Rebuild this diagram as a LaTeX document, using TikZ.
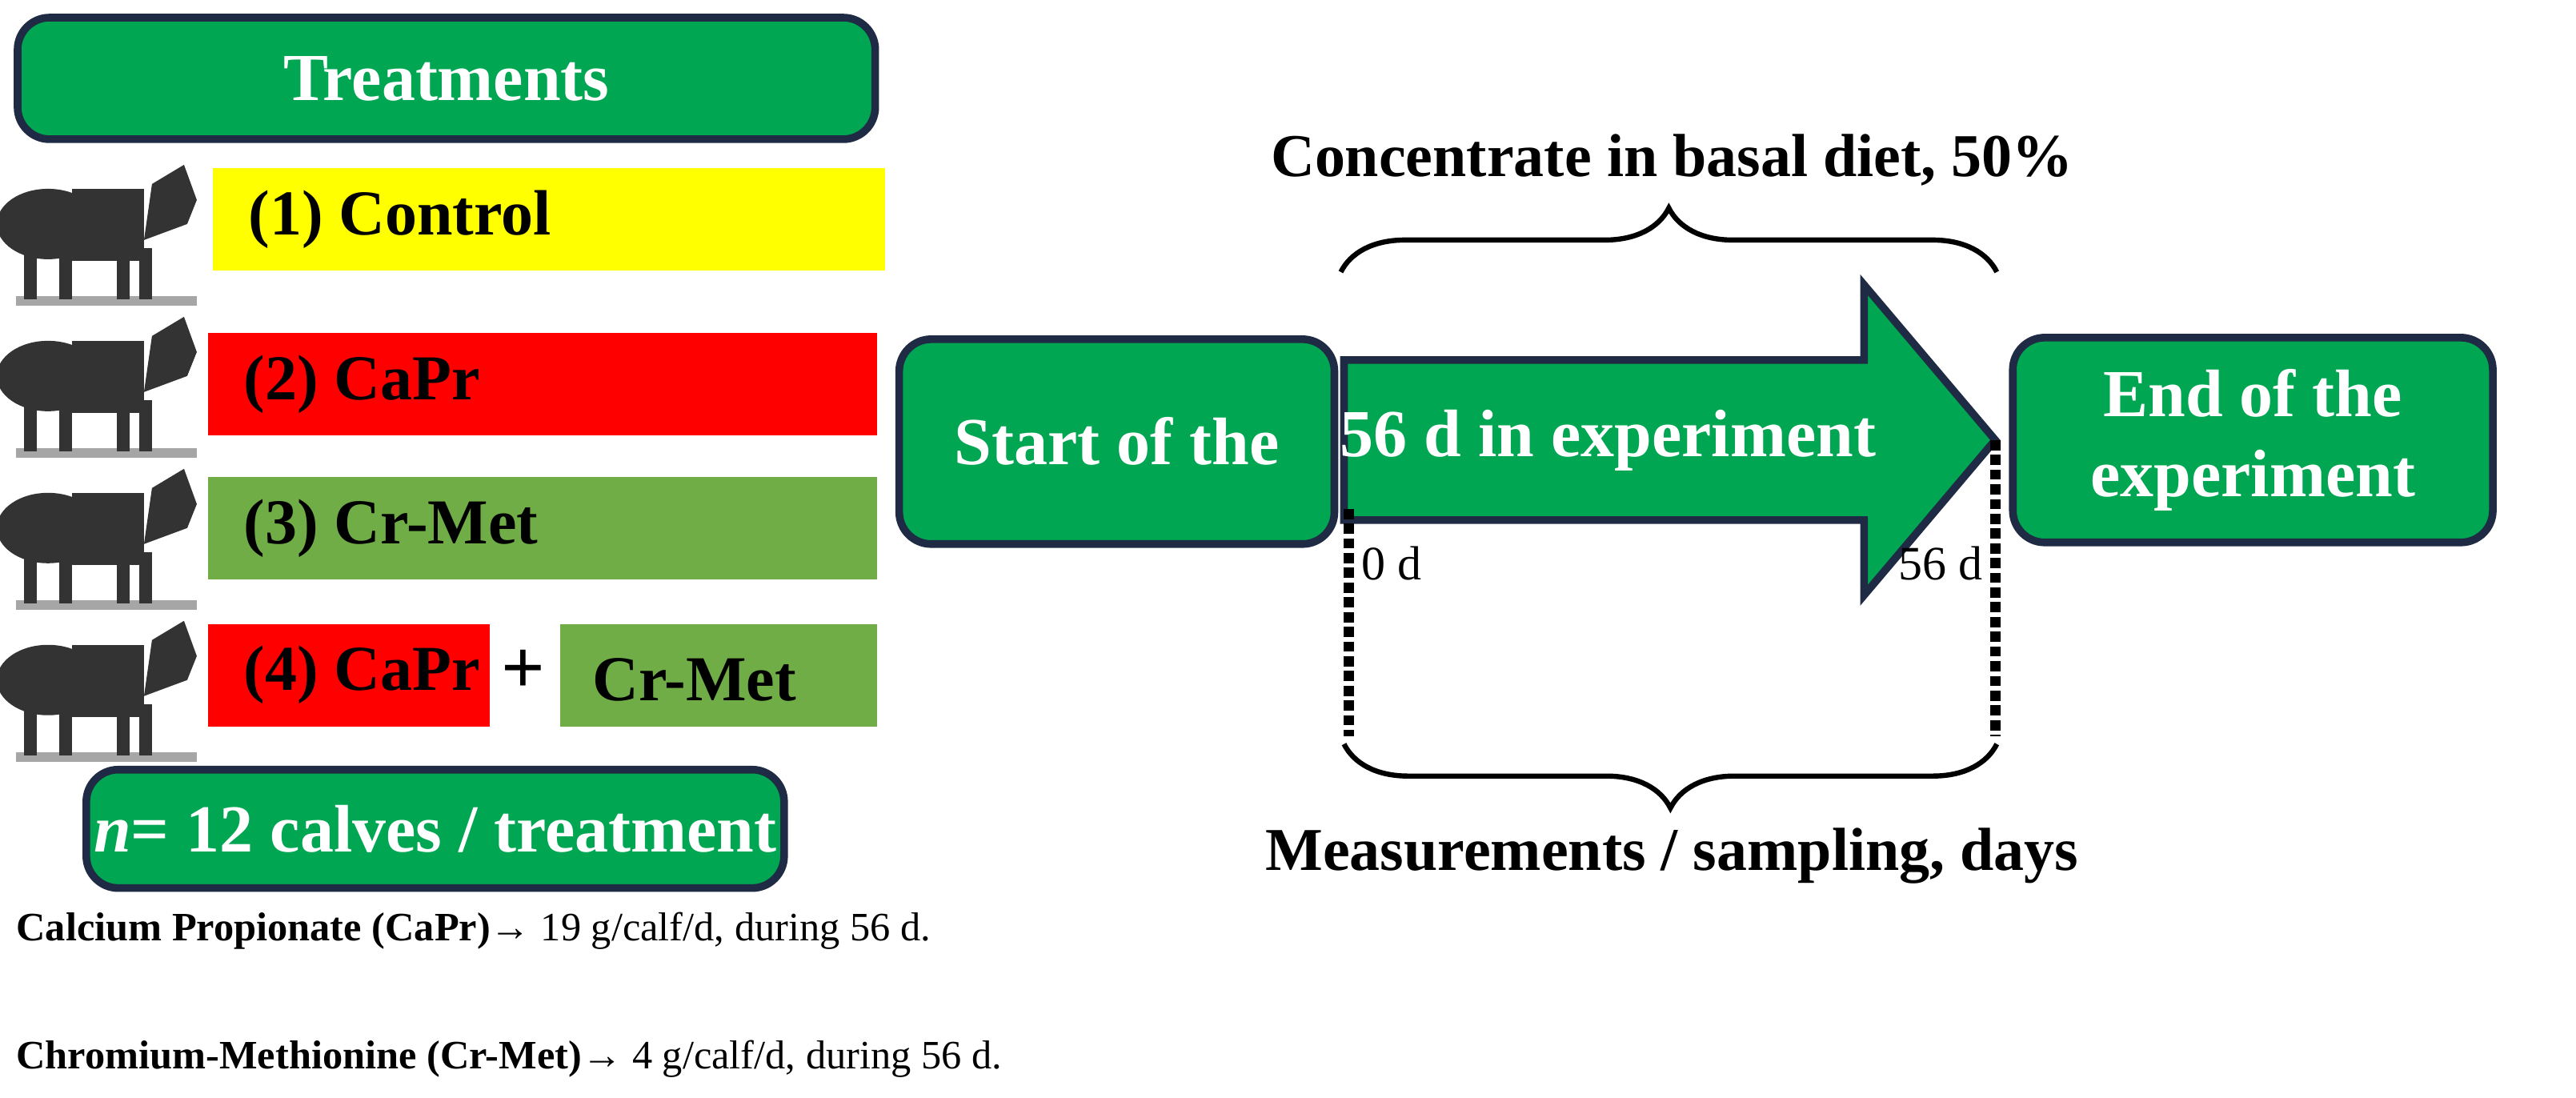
\documentclass[tikz,border=0pt]{standalone}
\usepackage{fontspec}
\setmainfont{Liberation Serif}
\usetikzlibrary{decorations.pathreplacing}
\definecolor{gbox}{HTML}{00A651}
\definecolor{navy}{HTML}{1F2A44}
\definecolor{olive}{HTML}{70AD47}
\definecolor{rbar}{HTML}{FF0000}
\definecolor{ybar}{HTML}{FFFF00}
\newcommand{\fs}[1]{\fontsize{#1mm}{#1mm}\selectfont}
\tikzset{
 x=0.25mm,y=-0.25mm,
 gb/.style={draw=navy,line width=1.2mm,fill=gbox,rounded corners=5mm,text=white,font=\bfseries\fs{10.5}},
 bar/.style={inner sep=0,minimum height=16mm,anchor=north west},
 bt/.style={font=\bfseries\fs{10},text=black,anchor=west,inner sep=0},
 lbl/.style={font=\fs{6.3},anchor=west,inner sep=0},
 calf/.pic={
  \fill[black!35] (-55,40) rectangle (58,46);
  \fill[black!80] (-35,-5) ellipse (32 and 22);
  \fill[black!80] (-20,-27) rectangle (25,18);
  \fill[black!80] (30,-30) -- (50,-42) -- (58,-20) -- (52,-5) -- (25,5) -- cycle;
  \foreach \lx in {-50,-28,8,22} \fill[black!80] (\lx,10) rectangle (\lx+8,42);
 }
}
\begin{document}
\begin{tikzpicture}
\useasboundingbox (0,0) rectangle (1610,686);
\fill[white] (0,0) rectangle (1610,686);
% left panel
\node[gb,minimum width=134mm,minimum height=19mm] (tr) at (279,49) {Treatments};
\foreach \y [count=\i] in {145,240,335,430} \pic (calf\i) at (65,\y) {calf};
\node[bar,fill=ybar,minimum width=105mm] (b1) at (133,105) {};
\node[bt] (t1b) at (155,137) {(1) Control};
\node[bar,fill=rbar,minimum width=104.5mm] (b2) at (130,208) {};
\node[bt] (t2b) at (152,240) {(2) CaPr};
\node[bar,fill=olive,minimum width=104.5mm] (b3) at (130,298) {};
\node[bt] (t3b) at (152,330) {(3) Cr-Met};
\node[bar,fill=rbar,minimum width=44mm] (b4) at (130,390) {};
\node[bt] (t4b) at (152,422) {(4) CaPr};
\node[font=\bfseries\fs{12},inner sep=0] (plus) at (327,420) {+};
\node[bar,fill=olive,minimum width=49.5mm] (b5) at (350,390) {};
\node[bt] (t5b) at (370,425) {Cr-Met};
\node[gb,minimum width=108mm,minimum height=18.5mm] (n) at (272,518) {\textit{n}= 12 calves / treatment};
\node[lbl] (t1) at (10,582) {\textbf{Calcium Propionate (CaPr)}\textbf{→} 19 g/calf/d, during 56 d.};
\node[lbl] (t2) at (10,662) {\textbf{Chromium-Methionine (Cr-Met)}\textbf{→} 4 g/calf/d, during 56 d.};
% right panel
\node[gb,minimum width=68mm,minimum height=32mm] (start) at (698,276) {Start of the};
\draw[draw=navy,line width=1.2mm,fill=gbox] (840,225) -- (1165,225) -- (1165,178) -- (1247,275) -- (1165,372) -- (1165,325) -- (840,325) -- cycle;
\node[text=white,font=\bfseries\fs{10.5}] (arr) at (1005,275) {56 d in experiment};
\coordinate (tip) at (1247,275);
\node[gb,minimum width=75mm,minimum height=32mm,align=center] (end) at (1408,275) {End of the\\[2mm]experiment};
\draw[line width=0.8mm,decorate,decoration={brace,amplitude=10mm}] (838,170) -- (1248,170);
\node[font=\bfseries\fs{9.5}] (conc) at (1045,100) {Concentrate in basal diet, 50\%};
\coordinate (d0a) at (843,318); \coordinate (d0b) at (843,460);
\coordinate (d1b) at (1247,460);
\draw[line width=1.6mm,dotted] (d0a) -- (d0b);
\draw[line width=1.6mm,dotted] (tip) -- (d1b);
\node[font=\fs{7.5}] (z) at (870,352) {0 d};
\node[font=\fs{7.5}] (fs) at (1213,352) {56 d};
\draw[line width=0.8mm,decorate,decoration={brace,amplitude=10mm,mirror}] (840,465) -- (1248,465);
\node[font=\bfseries\fs{9.5}] (meas) at (1045,535) {Measurements / sampling, days};
\end{tikzpicture}
\end{document}
